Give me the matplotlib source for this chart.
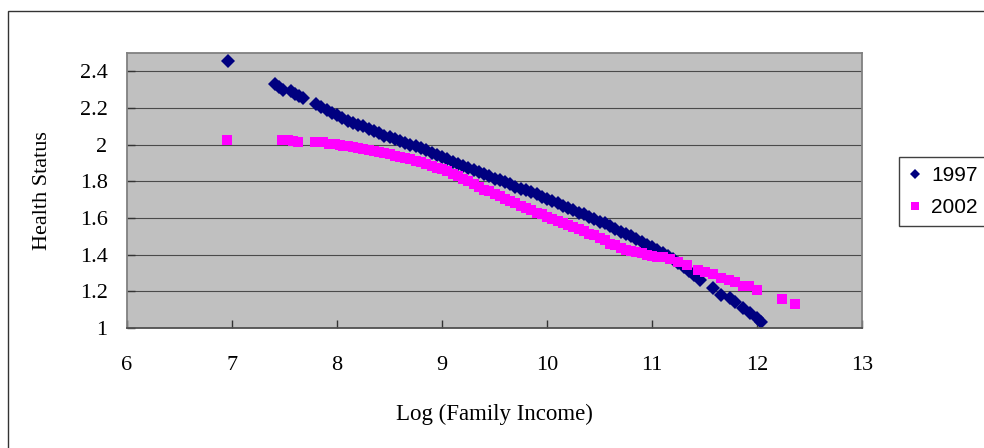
import matplotlib
matplotlib.use("Agg")
import matplotlib.pyplot as plt
from matplotlib.patches import Rectangle

# values
income_1997 = [6.96, 7.41, 7.45, 7.49, 7.56, 7.60, 7.64, 7.68,
               7.80, 7.85, 7.90, 7.95, 8.00, 8.05, 8.10, 8.15, 8.20, 8.25,
               8.30, 8.35, 8.40, 8.45, 8.50, 8.55, 8.60, 8.65, 8.70, 8.75,
               8.80, 8.85, 8.90, 8.95, 9.00, 9.05, 9.10, 9.15, 9.20, 9.25,
               9.30, 9.35, 9.40, 9.45, 9.50, 9.55, 9.60, 9.65, 9.70, 9.75,
               9.80, 9.85, 9.90, 9.95, 10.00, 10.05, 10.10, 10.15, 10.20,
               10.25, 10.30, 10.35, 10.40, 10.45, 10.50, 10.55, 10.60, 10.65,
               10.70, 10.75, 10.80, 10.85, 10.90, 10.95, 11.00, 11.05, 11.10,
               11.15, 11.20, 11.25, 11.30, 11.35, 11.40, 11.46,
               11.58, 11.66, 11.74, 11.79, 11.87, 11.93, 12.00, 12.04]
health_1997 = [2.457, 2.33, 2.315, 2.30, 2.29, 2.275, 2.265, 2.252,
               2.222, 2.205, 2.19, 2.175, 2.16, 2.145, 2.13, 2.12, 2.11, 2.10,
               2.085, 2.075, 2.065, 2.05, 2.04, 2.03, 2.02, 2.01, 2.00, 1.99,
               1.98, 1.97, 1.955, 1.945, 1.935, 1.92, 1.905, 1.895, 1.885, 1.87,
               1.86, 1.85, 1.84, 1.83, 1.815, 1.805, 1.795, 1.785, 1.77, 1.76,
               1.75, 1.74, 1.73, 1.715, 1.705, 1.69, 1.68, 1.665, 1.655,
               1.645, 1.63, 1.62, 1.605, 1.595, 1.58, 1.57, 1.555, 1.54,
               1.525, 1.51, 1.50, 1.485, 1.47, 1.455, 1.44, 1.425, 1.41,
               1.395, 1.375, 1.355, 1.335, 1.31, 1.29, 1.262,
               1.216, 1.18, 1.162, 1.144, 1.107, 1.08, 1.053, 1.034]

income_2002 = [6.95, 7.48, 7.53, 7.58, 7.63,
               7.79, 7.83, 7.87, 7.92, 7.98, 8.03, 8.06,
               8.10, 8.15, 8.20, 8.25, 8.30, 8.35, 8.40, 8.45, 8.50, 8.55,
               8.60, 8.65, 8.70, 8.75, 8.80, 8.85, 8.90, 8.95, 9.00, 9.05,
               9.10, 9.15, 9.20, 9.25, 9.30, 9.35, 9.40, 9.45, 9.50, 9.55,
               9.60, 9.65, 9.70, 9.75, 9.80, 9.85, 9.90, 9.95, 10.00, 10.05,
               10.10, 10.15, 10.20, 10.25, 10.30, 10.35, 10.40, 10.45, 10.50,
               10.55, 10.60, 10.65, 10.70, 10.75, 10.80, 10.85, 10.90, 10.95,
               11.00, 11.05, 11.10, 11.17, 11.25, 11.33, 11.44, 11.50, 11.58,
               11.66, 11.73, 11.79, 11.87, 11.92, 12.00, 12.24, 12.36]
health_2002 = [2.026, 2.026, 2.026, 2.02, 2.017,
               2.017, 2.017, 2.015, 2.004, 2.004, 1.998, 1.993,
               1.99, 1.985, 1.98, 1.975, 1.97, 1.965, 1.96, 1.955, 1.95, 1.94,
               1.935, 1.925, 1.92, 1.91, 1.905, 1.895, 1.885, 1.875, 1.865, 1.855,
               1.84, 1.83, 1.815, 1.80, 1.785, 1.77, 1.755, 1.745, 1.73, 1.72,
               1.705, 1.69, 1.68, 1.665, 1.655, 1.645, 1.63, 1.62, 1.605, 1.595,
               1.585, 1.57, 1.56, 1.55, 1.54, 1.53, 1.515, 1.505, 1.49,
               1.48, 1.46, 1.45, 1.435, 1.425, 1.42, 1.415, 1.41, 1.40,
               1.395, 1.39, 1.385, 1.375, 1.36, 1.344, 1.316, 1.307, 1.295,
               1.27, 1.262, 1.253, 1.23, 1.229, 1.207, 1.16, 1.131]

x_ticks = [6, 7, 8, 9, 10, 11, 12, 13]
y_ticks = [1.0, 1.2, 1.4, 1.6, 1.8, 2.0, 2.2, 2.4]
y_tick_labels = ["1", "1.2", "1.4", "1.6", "1.8", "2", "2.2", "2.4"]

serif = ["Liberation Serif", "DejaVu Serif"]
sans = ["Liberation Sans", "DejaVu Sans"]

W, H = 984, 448
fig = plt.figure(figsize=(W / 100, H / 100), dpi=100)
ax = fig.add_axes([127 / W, 1 - 328 / H, (862 - 127) / W, (328 - 53) / H])

# outer chart frame (runs off the right and bottom edge)
fig.patches.append(Rectangle((8 / W, -0.5), 2, (1 - 11 / H) + 0.5,
                             transform=fig.transFigure, fill=False,
                             edgecolor="#333333", lw=1.0))

ax.set_facecolor("#C0C0C0")
ax.set_axisbelow(True)
ax.grid(axis="y", color="#4a4a4a", lw=0.8)

ax.plot(income_1997, health_1997, ls="none", marker="D", ms=7.0,
        mew=0, color="#000080", label="1997")
ax.plot(income_2002, health_2002, ls="none", marker="s", ms=7.5,
        mew=0, color="#FF00FF", label="2002")

ax.set_xlim(6, 13)
ax.set_ylim(1, 2.5)
ax.set_xticks(x_ticks)
ax.set_yticks(y_ticks)
ax.set_yticklabels(y_tick_labels)
for lab in ax.get_xticklabels() + ax.get_yticklabels():
    lab.set_family(serif)
    lab.set_fontsize(16)
ax.tick_params(axis="x", direction="in", length=6, width=1, color="#333333", pad=20)
ax.tick_params(axis="y", direction="in", length=6, width=1, color="#333333", pad=14)

for side in ["top", "right", "left"]:
    ax.spines[side].set_color("#808080")
    ax.spines[side].set_linewidth(1.3)
ax.spines["bottom"].set_color("#505050")
ax.spines["bottom"].set_linewidth(1.3)

ax.set_xlabel("Log (Family Income)", family=serif, fontsize=16.5, labelpad=21)
ax.set_ylabel("Health Status", family=serif, fontsize=16, labelpad=20)

leg = fig.legend(loc="upper left", bbox_to_anchor=(899 / W, 1 - 157 / H),
                 borderaxespad=0, fancybox=False, framealpha=1,
                 edgecolor="#404040", prop={"family": sans, "size": 15},
                 handlelength=0.6, handletextpad=0.5, labelspacing=0.6,
                 borderpad=0.45, markerscale=0.72)
leg.get_frame().set_linewidth(1.0)

fig.savefig("out.png", dpi=100)
